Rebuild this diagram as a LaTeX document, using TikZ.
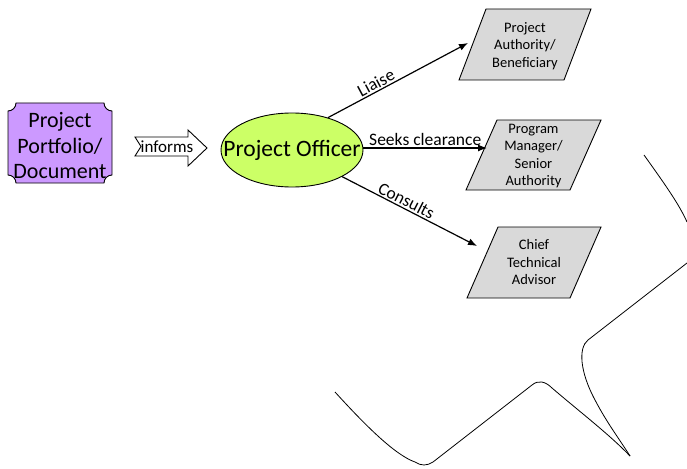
\documentclass[tikz,border=0pt]{standalone}
\usepackage{fontspec}
\setmainfont{Carlito}
\usetikzlibrary{shapes.geometric,arrows.meta,calc}
\definecolor{plaquepurple}{HTML}{CC99FF}
\definecolor{officerlime}{HTML}{CCFF66}
\definecolor{boxgray}{HTML}{D9D9D9}
\tikzset{
  outline/.style={draw=black, line width=0.9pt},
  conn/.style={line width=1.2pt, -{Latex[length=9pt,width=7pt]}},
  connlabel/.style={font=\fontsize{17.5}{21}\selectfont, inner sep=1.5pt},
  boxtext/.style={font=\fontsize{14.5}{17.5}\selectfont, align=center, inner sep=0pt},
  sketch/.style={draw=black, line width=0.8pt},
}
\begin{document}
\begin{tikzpicture}[x=1pt,y=-1pt]
\useasboundingbox (0,0) rectangle (687,468);
% plaque
\def\r{8}
\draw[outline, fill=plaquepurple]
  (8+\r,103) -- (112-\r,103)
  .. controls (112-\r,103+0.55*\r) and (112-0.55*\r,103+\r) .. (112,103+\r)
  -- (112,183-\r)
  .. controls (112-0.55*\r,183-\r) and (112-\r,183-0.55*\r) .. (112-\r,183)
  -- (8+\r,183)
  .. controls (8+\r,183-0.55*\r) and (8+0.55*\r,183-\r) .. (8,183-\r)
  -- (8,103+\r)
  .. controls (8+0.55*\r,103+\r) and (8+\r,103+0.55*\r) .. (8+\r,103) -- cycle;
\node[font=\fontsize{22}{25.5}\selectfont, align=center, inner sep=0pt] (portfolio) at (60,146) {Project\\Portfolio/\\Document};
% block arrow
\draw[outline, fill=white] (135,137) -- (188,137) -- (188,130) -- (207,148) -- (188,166) -- (188,156) -- (135,156) -- (141,146.5) -- cycle;
\node[font=\fontsize{17}{20}\selectfont, inner sep=0pt] (informs) at (167,147) {informs};
% officer
\node[ellipse, outline, fill=officerlime, minimum width=142pt, minimum height=74pt, inner sep=0pt,
  label={[font=\fontsize{23.5}{28}\selectfont]center:Project Officer}] (officer) at (292,150) {};
% parallelograms
\draw[outline, fill=boxgray] (459,80) -- (564,80) -- (591,9) -- (486,9) -- cycle;
\node[boxtext] (authority) at (525,46) {Project\\Authority/\\Beneficiary};
\draw[outline, fill=boxgray] (466,190) -- (570,190) -- (601,120) -- (497,120) -- cycle;
\node[boxtext] (manager) at (533.5,156) {Program\\Manager/\\Senior\\Authority};
\draw[outline, fill=boxgray] (467,298) -- (570,298) -- (601,227) -- (498,227) -- cycle;
\node[boxtext] (advisor) at (534,262.5) {Chief\\Technical\\Advisor};
% connectors
\coordinate (liaiseEnd) at (468,43);
\coordinate (seeksEnd) at (487,148);
\coordinate (consultsEnd) at (477,246);
\draw[conn] (officer.42) -- node[connlabel, sloped, above, pos=0.37] {Liaise} (liaiseEnd);
\draw[conn] (officer.east |- seeksEnd) -- node[connlabel, above, pos=0.5] {Seeks clearance} (seeksEnd);
\draw[conn] (officer.-28) -- node[connlabel, sloped, above, pos=0.45] {Consults} (consultsEnd);
% stray sketch curves
\draw[sketch] (644,155) .. controls (664,183) and (679,204) .. (687,222);
\draw[sketch] (687,263) -- (588,340) .. controls (578,348) and (580,372) .. (595,400) .. controls (607,423) and (620,440) .. (630,456);
\draw[sketch] (335,392) .. controls (365,425) and (395,455) .. (415,462) .. controls (421,466) and (427,466) .. (433,462) -- (532,385) .. controls (538,380) and (545,381) .. (552,388) .. controls (580,412) and (610,435) .. (630,456);
\end{tikzpicture}
\end{document}
